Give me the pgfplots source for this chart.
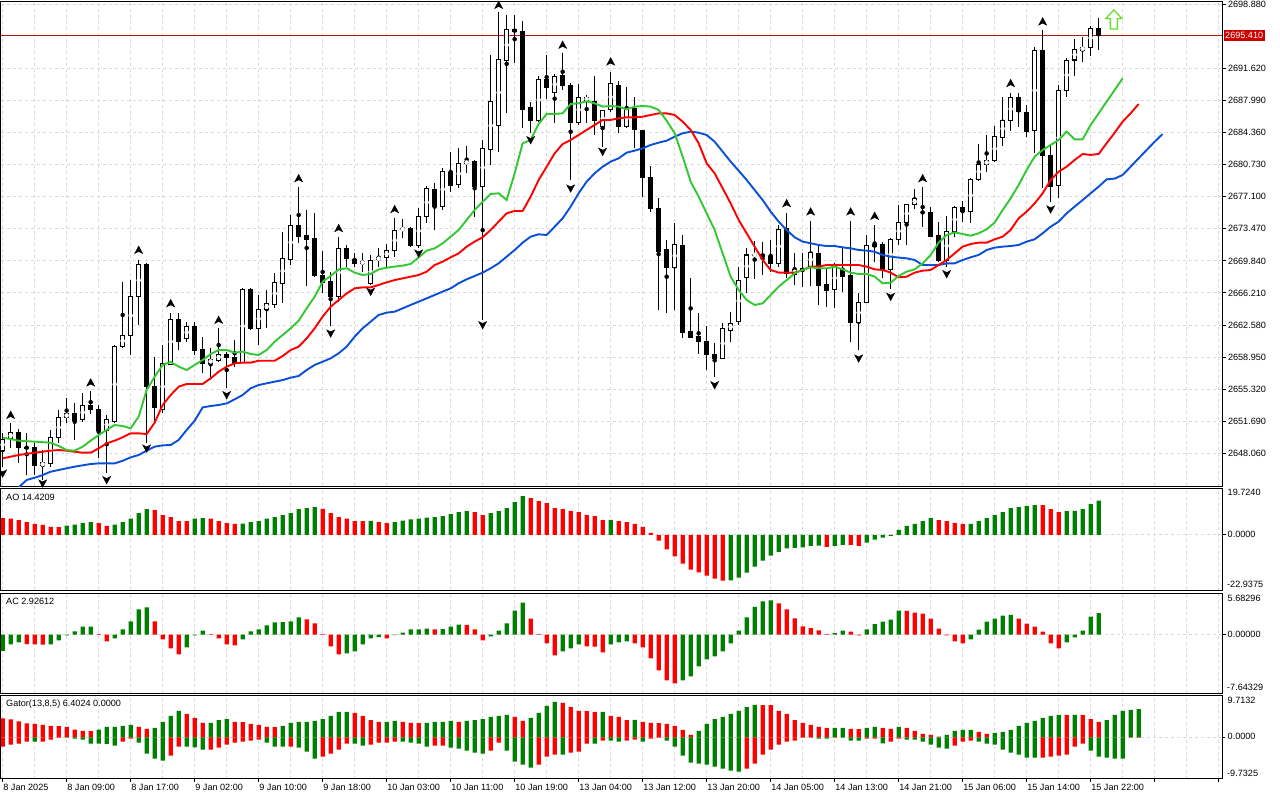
\documentclass[border=0pt]{standalone}
\usepackage{fontspec}
\setmainfont{Liberation Sans}
\usepackage{pgfplots}
\usepackage{pgfplotstable}
\pgfplotsset{compat=1.18}
\definecolor{gridc}{RGB}{218,218,218}
\definecolor{mtgreen}{RGB}{0,128,0}
\definecolor{mtred}{RGB}{255,0,0}
\definecolor{lips}{RGB}{50,200,50}
\definecolor{teeth}{RGB}{255,0,0}
\definecolor{jaw}{RGB}{10,80,215}
\definecolor{pline}{RGB}{185,20,20}
\definecolor{plabel}{RGB}{205,0,0}
\definecolor{sig}{RGB}{110,220,50}
\newcommand\lab{\fontsize{9.1}{10}\selectfont}
\pgfdeclareplotmark{fup}{%
 \pgfpathmoveto{\pgfqpoint{0pt}{4pt}}\pgfpathlineto{\pgfqpoint{4pt}{-3.5pt}}%
 \pgfpathlineto{\pgfqpoint{0pt}{-1.5pt}}\pgfpathlineto{\pgfqpoint{-4pt}{-3.5pt}}%
 \pgfpathclose\pgfusepathqfillstroke}
\pgfdeclareplotmark{fdown}{%
 \pgfpathmoveto{\pgfqpoint{0pt}{-4pt}}\pgfpathlineto{\pgfqpoint{4pt}{3.5pt}}%
 \pgfpathlineto{\pgfqpoint{0pt}{1.5pt}}\pgfpathlineto{\pgfqpoint{-4pt}{3.5pt}}%
 \pgfpathclose\pgfusepathqfillstroke}
\pgfdeclareplotmark{bigup}{%
 \pgfpathmoveto{\pgfqpoint{0pt}{9.5pt}}\pgfpathlineto{\pgfqpoint{8pt}{1pt}}%
 \pgfpathlineto{\pgfqpoint{3.5pt}{1pt}}\pgfpathlineto{\pgfqpoint{3.5pt}{-9.5pt}}%
 \pgfpathlineto{\pgfqpoint{-3.5pt}{-9.5pt}}\pgfpathlineto{\pgfqpoint{-3.5pt}{1pt}}%
 \pgfpathlineto{\pgfqpoint{-8pt}{1pt}}\pgfpathclose\pgfusepathqfillstroke}

\pgfplotstableread{
k o h l c
0 2648.43 2650.32 2646.55 2649.64
1 2649.72 2651.45 2648.62 2650.43
2 2650.43 2650.81 2646.92 2648.70
3 2648.70 2650.32 2645.60 2648.70
4 2648.70 2649.19 2645.60 2646.65
5 2646.65 2648.43 2645.04 2647.00
6 2646.92 2650.70 2646.55 2649.87
7 2649.87 2652.96 2649.19 2652.13
8 2652.13 2654.28 2651.52 2652.58
9 2652.58 2653.71 2649.57 2651.83
10 2651.90 2654.92 2651.64 2653.49
11 2653.49 2655.15 2652.58 2653.03
12 2653.03 2653.52 2647.49 2650.70
13 2650.70 2652.39 2645.79 2651.90
14 2651.64 2660.32 2651.45 2660.13
15 2660.13 2667.49 2659.94 2661.45
16 2661.45 2667.67 2659.19 2665.86
17 2665.86 2669.94 2662.58 2669.45
18 2669.45 2669.64 2649.19 2655.61
19 2655.61 2659.00 2651.64 2653.26
20 2653.03 2660.32 2652.58 2658.17
21 2658.17 2663.98 2658.06 2663.22
22 2663.22 2663.90 2659.75 2660.70
23 2661.07 2662.96 2660.70 2662.47
24 2662.47 2662.96 2659.19 2659.68
25 2659.83 2661.26 2657.19 2658.24
26 2658.24 2659.94 2656.35 2658.70
27 2658.62 2662.21 2658.43 2659.30
28 2659.30 2659.57 2655.42 2658.92
29 2658.92 2660.89 2657.87 2658.24
30 2658.32 2666.73 2658.24 2666.61
31 2666.62 2666.73 2662.02 2662.21
32 2662.21 2665.98 2660.32 2664.36
33 2664.36 2666.54 2662.21 2664.96
34 2664.96 2668.43 2664.47 2667.37
35 2667.30 2673.15 2665.11 2670.13
36 2670.02 2675.03 2669.38 2673.87
37 2673.87 2678.24 2671.83 2672.58
38 2672.66 2675.60 2666.99 2672.28
39 2672.39 2675.30 2668.05 2668.24
40 2668.20 2671.00 2666.16 2667.37
41 2667.56 2668.58 2662.47 2665.79
42 2665.79 2672.50 2665.22 2671.26
43 2671.26 2671.64 2669.19 2670.13
44 2670.02 2670.70 2669.19 2669.56
45 2669.56 2670.70 2668.62 2669.75
46 2667.30 2670.51 2667.11 2669.94
47 2669.94 2671.26 2669.19 2670.24
48 2670.24 2671.75 2669.19 2671.00
49 2671.00 2674.66 2670.32 2673.34
50 2673.34 2674.54 2672.39 2673.53
51 2673.53 2673.71 2671.45 2671.56
52 2671.56 2675.79 2671.26 2674.92
53 2674.92 2678.32 2674.17 2678.05
54 2677.94 2678.62 2673.34 2675.98
55 2675.98 2680.32 2675.60 2679.94
56 2679.83 2682.13 2677.68 2678.36
57 2678.54 2682.58 2678.05 2680.88
58 2680.88 2682.88 2679.75 2681.11
59 2681.11 2681.26 2674.85 2678.32
60 2678.24 2683.52 2663.15 2682.58
61 2682.47 2693.14 2680.69 2687.86
62 2685.15 2698.05 2682.21 2692.65
63 2692.50 2697.67 2686.62 2696.05
64 2696.05 2697.67 2692.20 2695.79
65 2695.86 2697.03 2684.84 2686.99
66 2687.18 2687.86 2684.35 2685.71
67 2685.71 2690.77 2685.60 2690.39
68 2690.39 2693.14 2688.16 2689.45
69 2688.92 2691.00 2685.41 2690.77
70 2690.77 2693.33 2689.18 2689.64
71 2689.64 2689.94 2679.00 2685.49
72 2685.52 2689.86 2685.22 2688.35
73 2688.05 2688.62 2685.41 2688.28
74 2687.94 2690.77 2684.09 2685.71
75 2685.03 2686.96 2682.77 2686.92
76 2686.92 2691.26 2686.73 2689.86
77 2689.75 2690.24 2684.28 2685.03
78 2685.03 2689.48 2684.84 2686.99
79 2687.11 2688.35 2682.58 2684.66
80 2684.66 2684.70 2677.11 2679.26
81 2679.30 2680.58 2675.41 2675.79
82 2675.79 2676.92 2664.28 2670.88
83 2671.15 2672.21 2663.90 2669.11
84 2669.11 2674.17 2664.28 2671.71
85 2671.64 2672.77 2661.07 2661.71
86 2661.83 2667.86 2661.07 2661.19
87 2661.34 2663.98 2659.30 2660.70
88 2660.77 2662.47 2657.49 2659.26
89 2659.30 2660.51 2656.66 2658.81
90 2658.81 2662.77 2658.70 2662.21
91 2662.02 2664.09 2660.70 2662.77
92 2662.96 2669.19 2662.58 2667.67
93 2667.98 2671.26 2666.16 2670.51
94 2670.43 2672.13 2667.86 2670.62
95 2670.62 2672.02 2668.24 2670.32
96 2670.39 2672.21 2668.62 2669.56
97 2669.56 2673.90 2669.19 2673.41
98 2673.53 2675.22 2667.86 2668.43
99 2668.36 2670.70 2667.11 2668.88
100 2669.00 2670.70 2666.92 2668.73
101 2669.19 2674.39 2667.00 2670.77
102 2670.70 2671.64 2664.85 2667.11
103 2667.22 2669.00 2664.66 2666.47
104 2666.62 2669.56 2664.47 2669.19
105 2668.88 2671.37 2666.35 2668.13
106 2668.24 2674.39 2660.70 2662.85
107 2662.85 2666.16 2659.75 2665.11
108 2665.11 2672.77 2665.03 2671.56
109 2671.71 2673.90 2669.75 2671.45
110 2671.64 2672.02 2667.86 2668.88
111 2668.88 2672.39 2666.62 2672.28
112 2672.28 2676.17 2671.64 2674.17
113 2674.17 2676.28 2671.64 2676.24
114 2676.24 2677.94 2675.68 2676.92
115 2675.30 2678.17 2673.71 2675.37
116 2675.37 2675.98 2672.51 2672.66
117 2672.77 2674.28 2669.75 2669.87
118 2669.87 2674.92 2669.19 2673.22
119 2673.22 2676.05 2672.58 2675.86
120 2675.90 2676.66 2674.28 2675.41
121 2675.41 2679.18 2674.17 2679.11
122 2679.07 2683.07 2678.92 2680.81
123 2680.81 2684.09 2679.94 2681.18
124 2681.18 2685.11 2681.07 2683.90
125 2683.83 2688.35 2682.84 2685.79
126 2685.71 2688.81 2684.58 2688.35
127 2688.35 2688.81 2684.96 2686.73
128 2686.66 2687.48 2683.90 2684.47
129 2684.58 2694.09 2682.01 2693.71
130 2693.71 2695.97 2678.05 2681.82
131 2681.82 2682.84 2676.54 2678.24
132 2678.43 2689.75 2676.92 2689.18
133 2689.18 2692.77 2688.35 2692.58
134 2692.58 2694.92 2690.77 2693.79
135 2693.71 2695.14 2692.39 2694.01
136 2694.01 2696.43 2693.03 2696.16
137 2696.16 2697.29 2693.71 2695.41
}\candles

\pgfplotstableread{
k v g
0 7.09 0
1 6.81 0
2 6.26 0
3 5.42 0
4 4.59 0
5 4.17 0
6 3.34 0
7 3.30 0
8 3.89 1
9 4.31 1
10 5.00 1
11 5.42 1
12 5.00 0
13 3.75 0
14 4.31 1
15 5.42 1
16 6.81 1
17 9.17 1
18 10.84 1
19 10.43 0
20 8.34 0
21 7.51 0
22 5.84 0
23 5.80 0
24 6.81 1
25 7.09 1
26 6.81 0
27 5.84 0
28 5.00 0
29 4.59 0
30 4.73 1
31 5.42 1
32 5.84 1
33 6.81 1
34 7.51 1
35 8.34 1
36 9.17 1
37 10.84 1
38 11.26 1
39 11.68 1
40 10.98 0
41 9.17 0
42 7.51 0
43 6.81 0
44 5.84 0
45 5.80 0
46 5.86 1
47 5.42 0
48 5.00 0
49 5.42 1
50 5.98 1
51 6.53 1
52 6.81 1
53 7.23 1
54 7.51 1
55 7.92 1
56 8.76 1
57 9.59 1
58 10.01 1
59 9.59 0
60 8.34 0
61 9.17 1
62 10.01 1
63 11.26 1
64 13.76 1
65 16.26 1
66 15.43 0
67 14.18 0
68 13.34 0
69 11.26 0
70 10.84 0
71 10.01 0
72 9.59 0
73 8.34 0
74 7.92 0
75 6.26 0
76 6.30 1
77 5.84 0
78 5.42 0
79 4.59 0
80 3.34 0
81 0.83 0
82 -2.36 0
83 -6.12 0
84 -9.04 0
85 -12.09 0
86 -14.60 0
87 -15.71 0
88 -17.10 0
89 -18.35 0
90 -19.18 0
91 -19.10 1
92 -17.93 1
93 -15.85 1
94 -13.34 1
95 -10.84 1
96 -8.76 1
97 -7.09 1
98 -5.70 1
99 -5.42 1
100 -5.28 1
101 -4.59 1
102 -4.55 1
103 -5.00 0
104 -4.59 1
105 -4.17 1
106 -4.20 0
107 -4.59 0
108 -3.20 1
109 -1.95 1
110 -1.11 1
111 -0.42 1
112 2.09 1
113 3.75 1
114 4.59 1
115 5.84 1
116 7.09 1
117 6.26 0
118 5.84 0
119 5.00 0
120 4.59 0
121 4.62 1
122 5.84 1
123 7.09 1
124 8.34 1
125 9.59 1
126 11.26 1
127 11.68 1
128 12.09 1
129 12.51 1
130 12.48 0
131 10.84 0
132 9.59 0
133 10.01 1
134 10.05 1
135 10.84 1
136 12.93 1
137 14.42 1
}\aotab

\pgfplotstableread{
k v g
0 -2.20 1
1 -1.32 1
2 -1.04 1
3 -1.30 0
4 -1.32 0
5 -1.34 0
6 -1.32 1
7 -0.77 1
8 -0.09 1
9 0.45 1
10 1.09 1
11 1.10 1
12 0.09 0
13 -0.91 0
14 -0.50 1
15 0.73 1
16 1.82 1
17 3.45 1
18 3.72 1
19 1.82 0
20 -0.64 0
21 -1.86 0
22 -2.68 0
23 -1.73 1
24 -0.09 1
25 0.54 1
26 0.09 0
27 -0.50 0
28 -1.32 0
29 -1.45 0
30 -0.64 1
31 0.45 1
32 0.73 1
33 1.27 1
34 1.68 1
35 1.70 1
36 1.82 1
37 2.36 1
38 2.09 0
39 1.54 0
40 0.09 0
41 -1.59 0
42 -2.68 0
43 -2.54 1
44 -2.27 1
45 -1.32 1
46 -0.50 1
47 -0.32 1
48 -0.50 0
49 -0.05 1
50 0.27 1
51 0.73 1
52 0.73 1
53 0.82 1
54 0.72 0
55 0.75 1
56 1.09 1
57 1.36 1
58 1.34 0
59 0.73 0
60 -0.77 0
61 -0.23 1
62 0.54 1
63 1.54 1
64 3.27 1
65 4.36 1
66 2.18 0
67 0.09 0
68 -1.18 0
69 -2.81 0
70 -2.27 1
71 -1.86 1
72 -1.32 1
73 -1.59 0
74 -1.61 0
75 -2.41 0
76 -1.32 1
77 -1.04 1
78 -0.91 1
79 -1.18 0
80 -1.73 0
81 -3.22 0
82 -4.86 0
83 -6.22 0
84 -6.63 0
85 -6.22 1
86 -5.68 1
87 -4.31 1
88 -3.36 1
89 -2.95 1
90 -2.27 1
91 -1.18 1
92 0.54 1
93 2.36 1
94 3.81 1
95 4.54 1
96 4.68 1
97 4.27 0
98 3.45 0
99 2.22 0
100 1.14 0
101 0.91 0
102 0.59 0
103 0.09 0
104 0.23 1
105 0.54 1
106 0.41 0
107 -0.09 0
108 0.73 1
109 1.45 1
110 1.77 1
111 2.04 1
112 3.27 1
113 3.25 0
114 3.00 0
115 2.86 0
116 2.18 0
117 0.82 0
118 -0.09 0
119 -0.91 0
120 -1.18 0
121 -0.64 1
122 0.68 1
123 1.77 1
124 2.18 1
125 2.59 1
126 2.72 1
127 2.18 0
128 1.50 0
129 1.09 0
130 0.41 0
131 -1.18 0
132 -1.86 0
133 -1.04 1
134 -0.36 1
135 0.54 1
136 2.45 1
137 2.93 1
}\actab

\pgfplotstableread{
k u ug d dg
0 4.54 0 -2.23 0
1 4.30 0 -1.75 0
2 3.83 0 -1.51 0
3 3.35 0 -1.04 0
4 3.19 0 -1.06 1
5 2.95 0 -1.04 0
6 2.71 0 -0.56 0
7 2.69 0 -0.08 0
8 2.47 0 -0.10 1
9 1.83 0 -0.32 1
10 1.51 0 -0.56 1
11 1.50 0 -1.51 1
12 1.83 1 -1.53 1
13 2.47 1 -1.55 1
14 2.49 1 -1.99 1
15 2.71 1 -1.04 0
16 2.95 1 -0.32 0
17 2.47 0 -1.28 1
18 1.99 0 -3.91 1
19 2.23 1 -5.10 1
20 3.67 1 -5.58 1
21 5.10 1 -4.38 0
22 6.30 1 -2.23 0
23 5.58 0 -2.25 1
24 4.62 0 -2.39 1
25 3.43 0 -2.95 1
26 3.45 1 -2.93 0
27 4.14 1 -2.47 0
28 4.38 1 -1.75 0
29 3.67 0 -1.28 0
30 3.65 0 -1.04 0
31 3.19 0 -0.80 0
32 2.95 0 -0.56 0
33 2.47 0 -1.28 1
34 2.45 0 -2.23 1
35 2.71 1 -2.25 1
36 3.43 1 -2.21 0
37 3.67 1 -2.47 1
38 3.69 1 -3.43 1
39 3.91 1 -5.10 1
40 4.38 1 -4.62 0
41 5.10 1 -3.91 0
42 6.06 1 -2.95 0
43 6.08 1 -1.51 0
44 5.82 0 -1.53 1
45 5.10 0 -1.99 1
46 4.14 0 -1.75 0
47 3.67 0 -1.28 0
48 3.69 1 -1.26 0
49 3.91 1 -1.04 0
50 3.67 0 -1.06 1
51 3.43 0 -1.28 1
52 3.41 0 -1.51 1
53 3.45 1 -2.23 1
54 3.67 1 -1.99 0
55 3.69 1 -1.97 0
56 3.91 1 -2.47 1
57 3.67 0 -2.71 1
58 3.91 1 -3.19 1
59 4.14 1 -3.67 1
60 4.38 1 -3.91 1
61 4.86 1 -3.19 0
62 5.10 1 -1.28 0
63 5.34 1 -3.19 1
64 4.86 0 -5.82 1
65 3.91 0 -6.54 1
66 4.62 1 -7.25 1
67 5.82 1 -6.54 0
68 7.49 1 -4.62 0
69 8.45 1 -4.14 0
70 8.21 0 -4.16 1
71 7.25 0 -3.67 0
72 6.30 0 -3.43 0
73 6.28 0 -1.51 0
74 6.06 0 -1.53 1
75 6.08 1 -0.80 0
76 5.10 0 -0.82 1
77 4.86 0 -1.04 1
78 4.14 0 -0.80 0
79 4.16 1 -0.56 0
80 3.67 0 -1.04 1
81 3.43 0 -0.32 0
82 3.41 0 -0.08 0
83 3.19 0 -0.80 1
84 2.71 0 -2.23 1
85 1.75 0 -4.38 1
86 0.56 0 -6.06 1
87 1.51 1 -6.30 1
88 3.19 1 -6.54 1
89 4.38 1 -7.01 1
90 4.86 1 -7.49 1
91 5.58 1 -7.97 1
92 6.30 1 -8.21 1
93 7.25 1 -7.49 0
94 7.73 1 -6.30 0
95 7.71 0 -4.14 0
96 7.69 0 -2.95 0
97 6.30 0 -1.75 0
98 5.58 0 -1.04 0
99 4.14 0 -0.80 0
100 3.43 0 -0.08 0
101 2.95 0 -0.10 1
102 2.47 0 -0.32 1
103 2.23 0 -0.34 1
104 2.25 1 -0.08 0
105 2.27 1 -0.10 1
106 1.99 0 -0.80 1
107 1.97 0 -0.82 1
108 2.23 1 -0.32 0
109 2.47 1 -0.30 0
110 2.23 0 -1.43 1
111 1.99 0 -1.04 0
112 2.47 1 -0.32 0
113 2.23 0 -0.56 1
114 1.51 0 -0.58 1
115 0.80 0 -1.04 1
116 0.56 0 -1.75 1
117 0.16 0 -2.47 1
118 0.56 1 -2.71 1
119 1.51 1 -1.99 0
120 1.75 1 -1.04 0
121 1.77 1 -0.80 0
122 1.28 0 -1.04 1
123 0.80 0 -1.51 1
124 1.04 1 -1.75 1
125 1.28 1 -2.95 1
126 1.75 1 -3.67 1
127 2.71 1 -4.14 1
128 3.43 1 -4.86 1
129 3.91 1 -4.88 1
130 4.62 1 -4.84 0
131 5.10 1 -4.62 0
132 5.34 1 -4.38 0
133 5.32 0 -4.14 0
134 5.34 1 -2.23 0
135 5.32 0 -1.51 0
136 4.38 0 -3.19 1
137 3.67 0 -4.62 1
138 4.14 1 -4.86 1
139 5.34 1 -5.10 1
140 6.30 1 -5.12 1
141 6.54 1 -0.08 0
142 6.77 1 -0.08 0
}\gatortab

\pgfplotsset{
 mtbase/.style={scale only axis, width=1221pt, xmin=-0.21, xmax=152.42,
   axis line style={black, line width=1pt},
   grid style={gridc, line width=0.9pt, dash pattern=on 3pt off 3pt},
   tick style={black, line width=0.9pt},
   tick align=outside, ytick pos=right, xtick pos=bottom,
   major tick length=4pt,
   clip mode=individual,
   xmajorgrids, ymajorgrids},
 nox/.style={xtick={0,4,...,152}, xticklabels={}, xtick style={draw=none}},
 bar/.style={ybar, bar width=4.3pt, bar shift=0pt, draw=none, fill=#1, forget plot},
 ebody/.style={only marks, mark=none, forget plot,
   error bars/.cd, y dir=both, y explicit, error mark=none},
}

\begin{document}
\begin{tikzpicture}
\useasboundingbox (0pt,0pt) rectangle (1280pt,-800pt);
\fill[white] (0pt,0pt) rectangle (1280pt,-800pt);

% ---------------- main price panel
\begin{axis}[mtbase, nox, at={(1pt,-2pt)}, anchor=north west, height=484pt,
  ymin=2644.36, ymax=2699.14,
  ytick={2648.06,2651.69,2655.32,2658.95,2662.58,2666.21,2669.84,2673.47,2677.10,2680.73,2684.36,2687.99,2691.62,2698.88},
  yticklabels={2648.060,2651.690,2655.320,2658.950,2662.580,2666.210,2669.840,2673.470,2677.100,2680.730,2684.360,2687.990,2691.620,2698.880},
  yticklabel style={font=\lab, anchor=west, xshift=-1.5pt}]
\addplot[pline, line width=0.9pt, forget plot] coordinates {(-1,2695.41) (153,2695.41)};
% candles: wicks
\addplot[black, ebody, error bar style={line width=1pt, black}]
 table[x=k, y expr={(\thisrow{h}+\thisrow{l})/2}, y error expr={(\thisrow{h}-\thisrow{l})/2}] {\candles};
% bodies (outline / black)
\addplot[black, ebody, error bar style={line width=5.3pt, black}]
 table[x=k, y expr={(\thisrow{o}+\thisrow{c})/2}, y error expr={abs(\thisrow{c}-\thisrow{o})/2+0.057}] {\candles};
% white interior of rising candles
\addplot[white, restrict expr to domain={\thisrow{c}-\thisrow{o}}{0.15:100}, ebody, error bar style={line width=3.3pt, white}]
 table[x=k, y expr={(\thisrow{o}+\thisrow{c})/2}, y error expr={(\thisrow{c}-\thisrow{o})/2-0.057}] {\candles};
% alligator jaw
\addplot[jaw, line width=1.9pt, mark=none] coordinates {
(0,2643.34)(1,2643.72)(2,2644.21)(3,2645.04)(4,2645.30)(5,2645.60)(6,2645.98)(7,2646.17)(8,2646.36)(9,2646.55)(10,2646.70)(11,2646.85)(12,2646.92)(13,2646.92)(14,2646.92)(15,2647.22)(16,2647.60)(17,2647.87)(18,2648.36)(19,2648.81)(20,2648.96)(21,2649.00)(22,2649.57)(23,2650.70)(24,2651.75)(25,2653.26)(26,2653.41)(27,2653.53)(28,2653.71)(29,2654.17)(30,2654.66)(31,2655.42)(32,2655.79)(33,2655.98)(34,2656.17)(35,2656.35)(36,2656.62)(37,2656.81)(38,2657.49)(39,2658.06)(40,2658.43)(41,2658.81)(42,2659.38)(43,2660.13)(44,2661.26)(45,2662.21)(46,2662.96)(47,2663.72)(48,2663.98)(49,2664.09)(50,2664.47)(51,2664.85)(52,2665.22)(53,2665.60)(54,2665.98)(55,2666.36)(56,2666.73)(57,2667.30)(58,2667.75)(59,2668.13)(60,2668.51)(61,2669.00)(62,2669.56)(63,2670.32)(64,2671.07)(65,2671.90)(66,2672.58)(67,2672.85)(68,2672.77)(69,2673.71)(70,2674.66)(71,2675.98)(72,2677.49)(73,2678.81)(74,2679.75)(75,2680.50)(76,2681.07)(77,2681.45)(78,2682.09)(79,2682.32)(80,2682.58)(81,2682.96)(82,2683.22)(83,2683.45)(84,2683.90)(85,2684.28)(86,2684.47)(87,2684.35)(88,2684.09)(89,2683.33)(90,2682.20)(91,2681.07)(92,2680.05)(93,2679.00)(94,2677.86)(95,2676.73)(96,2675.41)(97,2674.28)(98,2673.34)(99,2672.51)(100,2672.02)(101,2671.83)(102,2671.64)(103,2671.52)(104,2671.52)(105,2671.37)(106,2671.26)(107,2671.07)(108,2671.00)(109,2670.88)(110,2670.51)(111,2670.32)(112,2670.21)(113,2670.13)(114,2669.94)(115,2669.37)(116,2669.37)(117,2669.37)(118,2669.56)(119,2669.56)(120,2669.94)(121,2670.24)(122,2670.51)(123,2671.07)(124,2671.34)(125,2671.45)(126,2671.52)(127,2671.64)(128,2672.02)(129,2672.28)(130,2672.96)(131,2673.71)(132,2674.28)(133,2675.22)(134,2675.98)(135,2676.73)(136,2677.49)(137,2678.24)(138,2679.07)(139,2679.15)(140,2679.56)(141,2680.50)(142,2681.45)(143,2682.39)(144,2683.33)(145,2684.20)};
% alligator teeth
\addplot[teeth, line width=1.9pt, mark=none] coordinates {
(0,2647.49)(2,2647.87)(4,2648.13)(6,2648.36)(7,2648.43)(8,2648.36)(9,2648.24)(10,2648.13)(11,2648.13)(12,2648.62)(13,2649.19)(14,2649.49)(15,2649.87)(16,2650.32)(17,2650.32)(18,2650.24)(19,2651.53)(20,2653.53)(21,2654.66)(22,2655.60)(23,2655.91)(24,2655.91)(25,2655.91)(26,2656.55)(27,2657.30)(28,2657.87)(29,2658.24)(30,2658.32)(31,2658.32)(32,2658.54)(33,2658.54)(34,2658.54)(35,2659.07)(36,2659.75)(37,2660.13)(38,2661.07)(39,2662.21)(40,2663.53)(41,2664.66)(42,2665.41)(43,2666.16)(44,2666.73)(45,2666.84)(46,2666.84)(47,2667.11)(48,2667.41)(49,2667.67)(50,2667.86)(51,2668.05)(52,2668.24)(53,2668.62)(54,2669.37)(55,2669.75)(56,2670.24)(57,2670.69)(58,2671.45)(59,2672.02)(60,2672.51)(61,2673.34)(62,2674.28)(63,2675.22)(64,2675.49)(65,2675.49)(66,2677.11)(67,2679.00)(68,2680.50)(69,2682.01)(70,2683.07)(71,2683.52)(72,2684.09)(73,2684.66)(74,2685.22)(75,2685.79)(76,2685.79)(77,2685.98)(78,2686.09)(79,2686.09)(80,2686.16)(81,2686.35)(82,2686.54)(83,2686.54)(84,2686.35)(85,2685.60)(86,2684.66)(87,2683.15)(88,2680.88)(89,2679.75)(90,2678.05)(91,2676.35)(92,2674.47)(93,2672.96)(94,2671.45)(95,2669.94)(96,2668.81)(97,2668.51)(98,2668.51)(99,2668.51)(100,2668.81)(101,2669.19)(102,2669.19)(103,2669.37)(104,2669.37)(105,2669.37)(106,2669.37)(107,2669.37)(108,2669.19)(109,2668.88)(110,2668.81)(111,2668.51)(112,2667.98)(113,2668.05)(114,2668.51)(115,2668.73)(116,2668.81)(117,2669.37)(118,2669.94)(119,2670.69)(120,2671.45)(121,2671.75)(122,2671.90)(123,2671.90)(124,2672.28)(125,2672.58)(126,2673.34)(127,2674.66)(128,2675.41)(129,2676.35)(130,2677.49)(131,2679.00)(132,2679.94)(133,2680.50)(134,2681.26)(135,2681.94)(136,2681.83)(137,2681.94)(138,2683.15)(139,2684.35)(140,2685.60)(141,2686.54)(142,2687.60)};
% alligator lips
\addplot[lips, line width=1.9pt, mark=none] coordinates {
(0,2649.83)(2,2649.49)(4,2649.38)(6,2649.26)(7,2648.89)(8,2648.43)(9,2648.36)(10,2648.81)(11,2649.49)(12,2650.13)(13,2650.70)(14,2651.26)(15,2651.15)(16,2650.89)(17,2652.21)(18,2655.23)(19,2656.73)(20,2658.06)(21,2658.39)(22,2657.87)(23,2657.49)(24,2658.06)(25,2658.62)(26,2659.30)(27,2659.75)(28,2659.75)(29,2659.45)(30,2659.57)(31,2659.30)(32,2659.19)(33,2659.75)(34,2660.70)(35,2661.45)(36,2662.21)(37,2663.07)(38,2664.47)(39,2665.79)(40,2667.49)(41,2668.13)(42,2668.88)(43,2669.00)(44,2668.51)(45,2668.24)(46,2668.36)(47,2668.88)(48,2669.07)(49,2669.19)(50,2669.30)(51,2669.49)(52,2670.24)(53,2671.00)(54,2671.26)(55,2671.83)(56,2672.58)(57,2673.34)(58,2674.47)(59,2675.60)(60,2676.54)(61,2677.41)(62,2677.49)(63,2676.73)(64,2679.75)(65,2683.15)(66,2683.52)(67,2685.33)(68,2686.47)(69,2686.47)(70,2686.54)(71,2687.60)(72,2687.67)(73,2687.90)(74,2687.67)(75,2687.30)(76,2687.37)(77,2687.30)(78,2686.99)(79,2687.30)(80,2687.37)(81,2687.30)(82,2686.92)(83,2685.71)(84,2684.28)(85,2681.64)(86,2678.81)(87,2677.11)(88,2675.22)(89,2673.34)(90,2670.69)(91,2668.05)(92,2666.54)(93,2665.41)(94,2664.85)(95,2665.03)(96,2665.98)(97,2666.92)(98,2667.67)(99,2668.43)(100,2668.81)(101,2669.11)(102,2669.00)(103,2669.00)(104,2669.19)(105,2668.88)(106,2668.51)(107,2668.36)(108,2668.36)(109,2668.05)(110,2667.30)(111,2667.37)(112,2668.13)(113,2668.62)(114,2668.88)(115,2669.56)(116,2670.51)(117,2671.90)(118,2672.77)(119,2673.07)(120,2672.88)(121,2672.69)(122,2672.96)(123,2673.41)(124,2674.17)(125,2675.60)(126,2676.92)(127,2678.43)(128,2680.13)(129,2681.64)(130,2682.39)(131,2682.96)(132,2683.52)(133,2684.47)(134,2683.60)(135,2683.60)(136,2685.22)(137,2686.54)(138,2687.86)(139,2689.18)(140,2690.50)};
% fractals
\addplot[only marks, mark=fup, mark options={black, fill=black, line width=0.4pt}] coordinates {
(1,2652.39)(11,2656.06)(17,2671.07)(21,2665.03)(27,2663.15)(37,2679.18)(42,2673.53)(49,2675.68)(62,2698.80)(70,2694.28)(76,2692.39)(98,2676.35)(101,2675.41)(106,2675.41)(109,2674.92)(115,2679.18)(126,2689.94)(130,2696.92)};
\addplot[only marks, mark=fdown, mark options={black, fill=black, line width=0.4pt}] coordinates {
(0,2645.79)(5,2644.66)(13,2645.04)(18,2648.62)(28,2654.66)(41,2661.64)(46,2666.36)(52,2670.69)(60,2662.58)(66,2683.52)(71,2678.05)(75,2682.20)(89,2655.79)(107,2658.81)(111,2665.79)(118,2668.36)(131,2675.68)};
% signal arrow
\addplot[only marks, mark=bigup, mark options={draw=sig, fill=white, line width=1.3pt}] coordinates {(138.9,2697.16)};
\end{axis}

% ---------------- AO panel
\begin{axis}[mtbase, nox, at={(1pt,-488pt)}, anchor=north west, height=102pt,
  ymin=-23.16, ymax=19.71, ytick={0}, yticklabels={}]
\addplot[bar=mtgreen, restrict expr to domain={\thisrow{g}}{0.5:1.5}] table[x=k, y=v] {\aotab};
\addplot[bar=mtred, restrict expr to domain={\thisrow{g}}{-0.5:0.5}] table[x=k, y=v] {\aotab};
\end{axis}

% ---------------- AC panel
\begin{axis}[mtbase, nox, at={(1pt,-593pt)}, anchor=north west, height=100pt,
  ymin=-7.946, ymax=5.684, ytick={0}, yticklabels={}]
\addplot[bar=mtgreen, restrict expr to domain={\thisrow{g}}{0.5:1.5}] table[x=k, y=v] {\actab};
\addplot[bar=mtred, restrict expr to domain={\thisrow{g}}{-0.5:0.5}] table[x=k, y=v] {\actab};
\end{axis}

% ---------------- Gator panel
\begin{axis}[mtbase, at={(1pt,-695.5pt)}, anchor=north west, height=83pt,
  ymin=-9.855, ymax=10.0, ytick={0}, yticklabels={},
  xtick={0,8,...,152}, minor xtick={4,12,...,148}, xminorgrids,
  minor tick length=0pt, major tick length=3pt,
  xticklabels={8 Jan 2025,8 Jan 09:00,8 Jan 17:00,9 Jan 02:00,9 Jan 10:00,9 Jan 18:00,10 Jan 03:00,10 Jan 11:00,10 Jan 19:00,13 Jan 04:00,13 Jan 12:00,13 Jan 20:00,14 Jan 05:00,14 Jan 13:00,14 Jan 21:00,15 Jan 06:00,15 Jan 14:00,15 Jan 22:00,{},{}},
  xticklabel style={font=\lab, anchor=north west, inner sep=1pt, xshift=-0.5pt, yshift=-1pt}]
\addplot[bar=mtgreen, restrict expr to domain={\thisrow{ug}}{0.5:1.5}] table[x=k, y=u] {\gatortab};
\addplot[bar=mtred, restrict expr to domain={\thisrow{ug}}{-0.5:0.5}] table[x=k, y=u] {\gatortab};
\addplot[bar=mtgreen, restrict expr to domain={\thisrow{dg}}{0.5:1.5}] table[x=k, y=d] {\gatortab};
\addplot[bar=mtred, restrict expr to domain={\thisrow{dg}}{-0.5:0.5}] table[x=k, y=d] {\gatortab};
\end{axis}

% ---------------- texts
\node[anchor=west, fill=plabel, text=white, font=\lab, inner xsep=1.5pt, inner ysep=1pt, minimum height=11pt] at (1223.5pt,-35.6pt) {2695.410};
\begin{scope}[every node/.style={anchor=west, font=\lab, inner sep=0pt}]
\node at (6pt,-497pt) {AO 14.4209};
\node at (6pt,-601pt) {AC 2.92612};
\node at (6pt,-704.5pt) {Gator(13,8,5) 6.4024 0.0000};
\node at (1227.5pt,-492.3pt) {19.7240};
\node at (1227.5pt,-534.7pt) {0.0000};
\node at (1227pt,-584.7pt) {-22.9375};
\node at (1227.5pt,-598pt) {5.68296};
\node at (1227.5pt,-634.7pt) {0.00000};
\node at (1227pt,-687.3pt) {-7.64329};
\node at (1227.5pt,-700.7pt) {9.7132};
\node at (1227.5pt,-736.7pt) {0.0000};
\node at (1227pt,-773.3pt) {-9.7325};
\end{scope}
\end{tikzpicture}
\end{document}
